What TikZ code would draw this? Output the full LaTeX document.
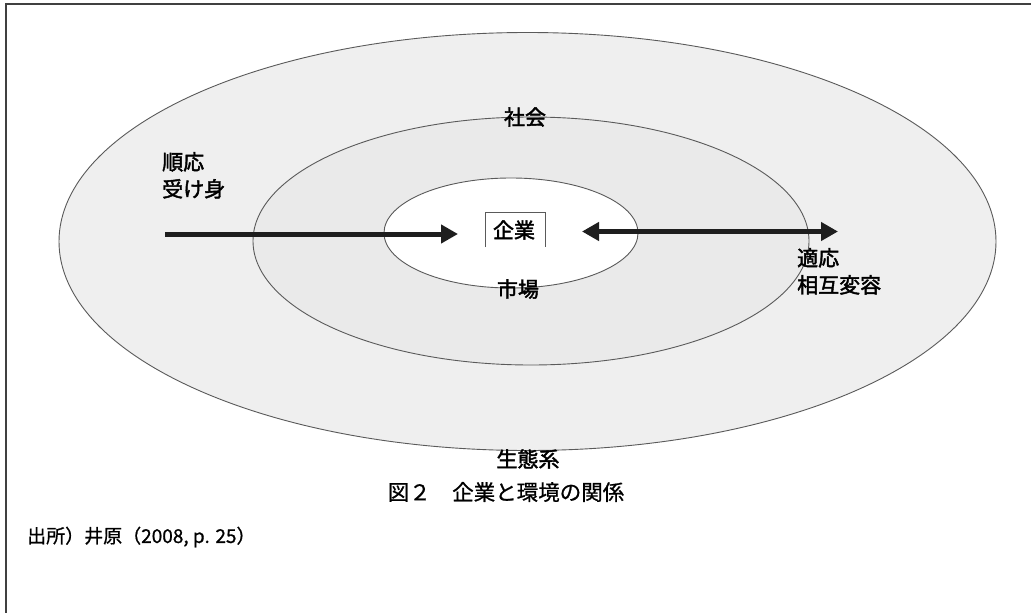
\documentclass[tikz,border=0pt]{standalone}
\usepackage{fontspec}
\setmainfont{Noto Sans CJK JP}
\newfontfamily\lblfont{Noto Sans CJK JP}[FakeBold=2]
\newfontfamily\capfont{Noto Sans CJK JP}[FakeBold=0.8]
\usetikzlibrary{shapes.geometric,arrows.meta}
\definecolor{outerfill}{HTML}{EFEFEF}
\definecolor{midfill}{HTML}{EAEAEA}
\definecolor{edgegray}{HTML}{5A5A5A}
\definecolor{arrowblk}{HTML}{1E1E1E}
\begin{document}
\begin{tikzpicture}[x=1pt,y=-1pt,
  ring/.style={ellipse,draw=edgegray,line width=0.9pt,inner sep=0pt},
  lbl/.style={font=\lblfont\fontsize{21}{27}\selectfont,text=black,inner sep=0pt,align=left},
  bigarrow/.style={draw=arrowblk,line width=5pt,-{Triangle[length=17pt,width=18pt]}},
  dblarrow/.style={draw=arrowblk,line width=5pt,{Triangle[length=17pt,width=18pt]}-{Triangle[length=17pt,width=18pt]}}
]
\useasboundingbox (0,0) rectangle (1031,613);
\fill[white] (0,0) rectangle (1031,613);
% frame
\draw[line width=2pt,draw=black!75] (6,613) -- (6,4) -- (1031,4);
% ellipses
\node[ring,fill=outerfill,minimum width=937pt,minimum height=418pt] (eco) at (527.5,241.5) {};
\node[ring,fill=midfill,minimum width=556pt,minimum height=248pt] (soc) at (531,241) {};
\node[ring,fill=white,minimum width=254pt,minimum height=110pt] (mkt) at (511,233) {};
% firm box (open bottom)
\node[lbl] (firm) at (514,230) {企業};
\draw[draw=edgegray,line width=0.9pt] (485,247) -- (485,212) -- (545,212) -- (545,247);
% labels
\node[lbl] (lsoc) at (525,117) {社会};
\node[lbl] (lmkt) at (518,289) {市場};
\node[lbl] (leco) at (528,459) {生態系};
\node[lbl,anchor=north west] (lpass) at (162,152) {順応\\受け身};
\node[lbl,anchor=north west] (ladapt) at (797,248) {適応\\相互変容};
% arrows
\coordinate (a1) at (165,234);
\coordinate (a2) at (458,234);
\draw[bigarrow] (a1) -- (a2);
\coordinate (b1) at (582,231.5);
\coordinate (b2) at (838,231.5);
\draw[dblarrow] (b1) -- (b2);
% caption and source
\node[font=\capfont\fontsize{21.5}{25}\selectfont,inner sep=0pt] (cap) at (506,492) {図２　企業と環境の関係};
\node[font=\capfont\fontsize{19}{23}\selectfont,inner sep=0pt,anchor=west] (src) at (27,537) {出所）井原（2008, p. 25）};
\end{tikzpicture}
\end{document}
